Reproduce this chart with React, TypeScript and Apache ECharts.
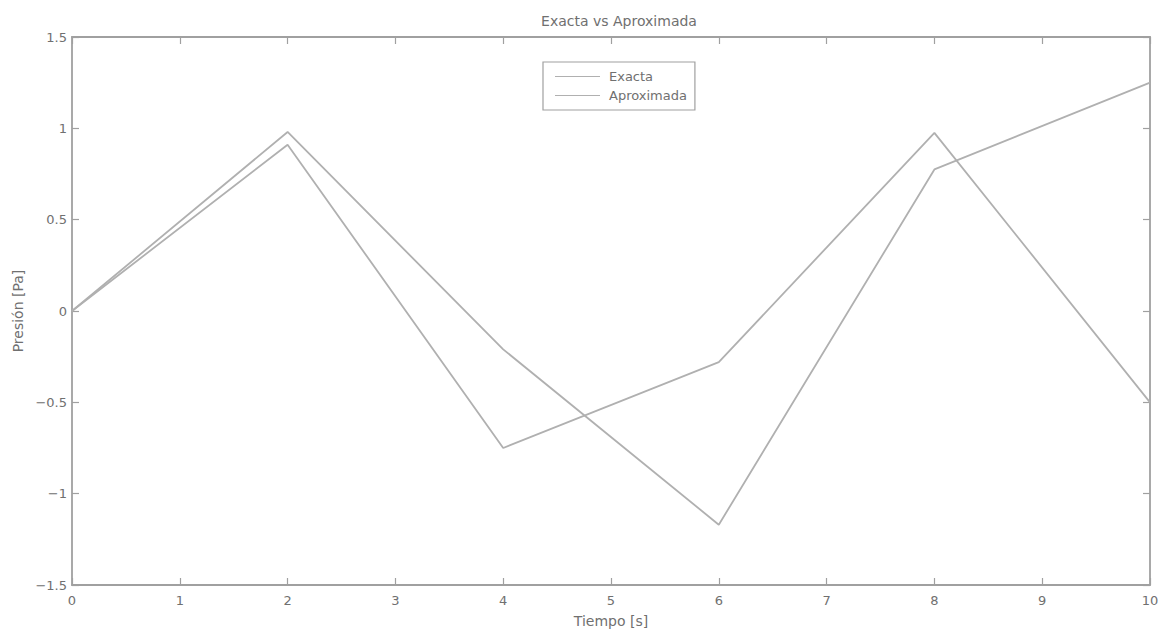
import React, { useEffect, useRef } from "react";
import * as echarts from "echarts";

const tiempo = [0, 2, 4, 6, 8, 10];
const exacta = [0, 0.98, -0.21, -1.17, 0.775, 1.25];
const aproximada = [0, 0.91, -0.75, -0.28, 0.975, -0.5];
const xTicks = [0, 1, 2, 3, 4, 5, 6, 7, 8, 9, 10];
const yTicks = [-1.5, -1, -0.5, 0, 0.5, 1, 1.5];

const GRAY_LINE = "#b0b0b0";
const GRAY_AXIS = "#a0a0a0";
const GRAY_TEXT = "#707070";
const FONT = "DejaVu Sans, Liberation Sans, Arial, sans-serif";

export default function App() {
  const ref = useRef<HTMLDivElement>(null);
  useEffect(() => {
    if (!ref.current) return;
    const chart = echarts.init(ref.current, undefined, { renderer: "svg" });
    const fmt = (v: number) => (v < 0 ? "\u2212" + String(-v) : String(v));
    const axisLine = { show: true, onZero: false, lineStyle: { color: GRAY_AXIS, width: 1.8 } };
    const axisTick = { show: true, inside: true, length: 7, lineStyle: { color: GRAY_AXIS, width: 1.2 } };
    chart.setOption({
      animation: false,
      backgroundColor: "#ffffff",
      textStyle: { fontFamily: FONT },
      title: {
        text: "Exacta vs Aproximada",
        left: 614,
        textAlign: "center",
        top: 9,
        textStyle: { color: GRAY_TEXT, fontSize: 14, fontWeight: "normal", fontFamily: FONT },
      },
      legend: {
        orient: "vertical",
        left: 543,
        top: 62,
        padding: [8, 8, 8, 12],
        itemGap: 6,
        itemWidth: 45,
        itemHeight: 1,
        icon: "rect",
        borderColor: GRAY_AXIS,
        borderWidth: 1.2,
        textStyle: { color: GRAY_TEXT, fontSize: 13, fontFamily: FONT, padding: [0, 0, 0, 4] },
        data: ["Exacta", "Aproximada"],
      },
      grid: { left: 72, right: 15, top: 37, bottom: 51 },
      xAxis: [
        {
          type: "value",
          min: 0,
          max: 10,
          interval: 1,
          position: "bottom",
          axisLine,
          axisTick: { ...axisTick, customValues: xTicks },
          splitLine: { show: false },
          axisLabel: {
            color: GRAY_TEXT,
            fontSize: 13,
            margin: 9,
            fontFamily: FONT,
            customValues: xTicks,
          },
          name: "Tiempo [s]",
          nameLocation: "middle",
          nameGap: 29,
          nameTextStyle: { color: GRAY_TEXT, fontSize: 14, fontFamily: FONT },
        },
        {
          type: "value",
          min: 0,
          max: 10,
          interval: 1,
          position: "top",
          axisLine,
          axisTick,
          splitLine: { show: false },
          axisLabel: { show: false },
        },
      ],
      yAxis: [
        {
          type: "value",
          min: -1.5,
          max: 1.5,
          interval: 0.5,
          position: "left",
          axisLine,
          axisTick: { ...axisTick, customValues: yTicks },
          splitLine: { show: false },
          axisLabel: {
            color: GRAY_TEXT,
            fontSize: 13,
            margin: 5,
            fontFamily: FONT,
            formatter: fmt,
            customValues: yTicks,
          },
          name: "Presión [Pa]",
          nameLocation: "middle",
          nameGap: 47,
          nameRotate: 90,
          nameTextStyle: { color: GRAY_TEXT, fontSize: 14, fontFamily: FONT },
        },
        {
          type: "value",
          min: -1.5,
          max: 1.5,
          interval: 0.5,
          position: "right",
          axisLine,
          axisTick,
          splitLine: { show: false },
          axisLabel: { show: false },
        },
      ],
      series: [
        {
          name: "Exacta",
          type: "line",
          symbol: "none",
          data: tiempo.map((t, i) => [t, exacta[i]]),
          lineStyle: { color: GRAY_LINE, width: 1.8 },
          itemStyle: { color: GRAY_LINE },
        },
        {
          name: "Aproximada",
          type: "line",
          symbol: "none",
          data: tiempo.map((t, i) => [t, aproximada[i]]),
          lineStyle: { color: GRAY_LINE, width: 1.8 },
          itemStyle: { color: GRAY_LINE },
        },
      ],
    });
    return () => chart.dispose();
  }, []);
  return (
    <div
      ref={ref}
      style={{ position: "fixed", left: 0, top: 0, width: 1165, height: 636, background: "#fff" }}
    />
  );
}
